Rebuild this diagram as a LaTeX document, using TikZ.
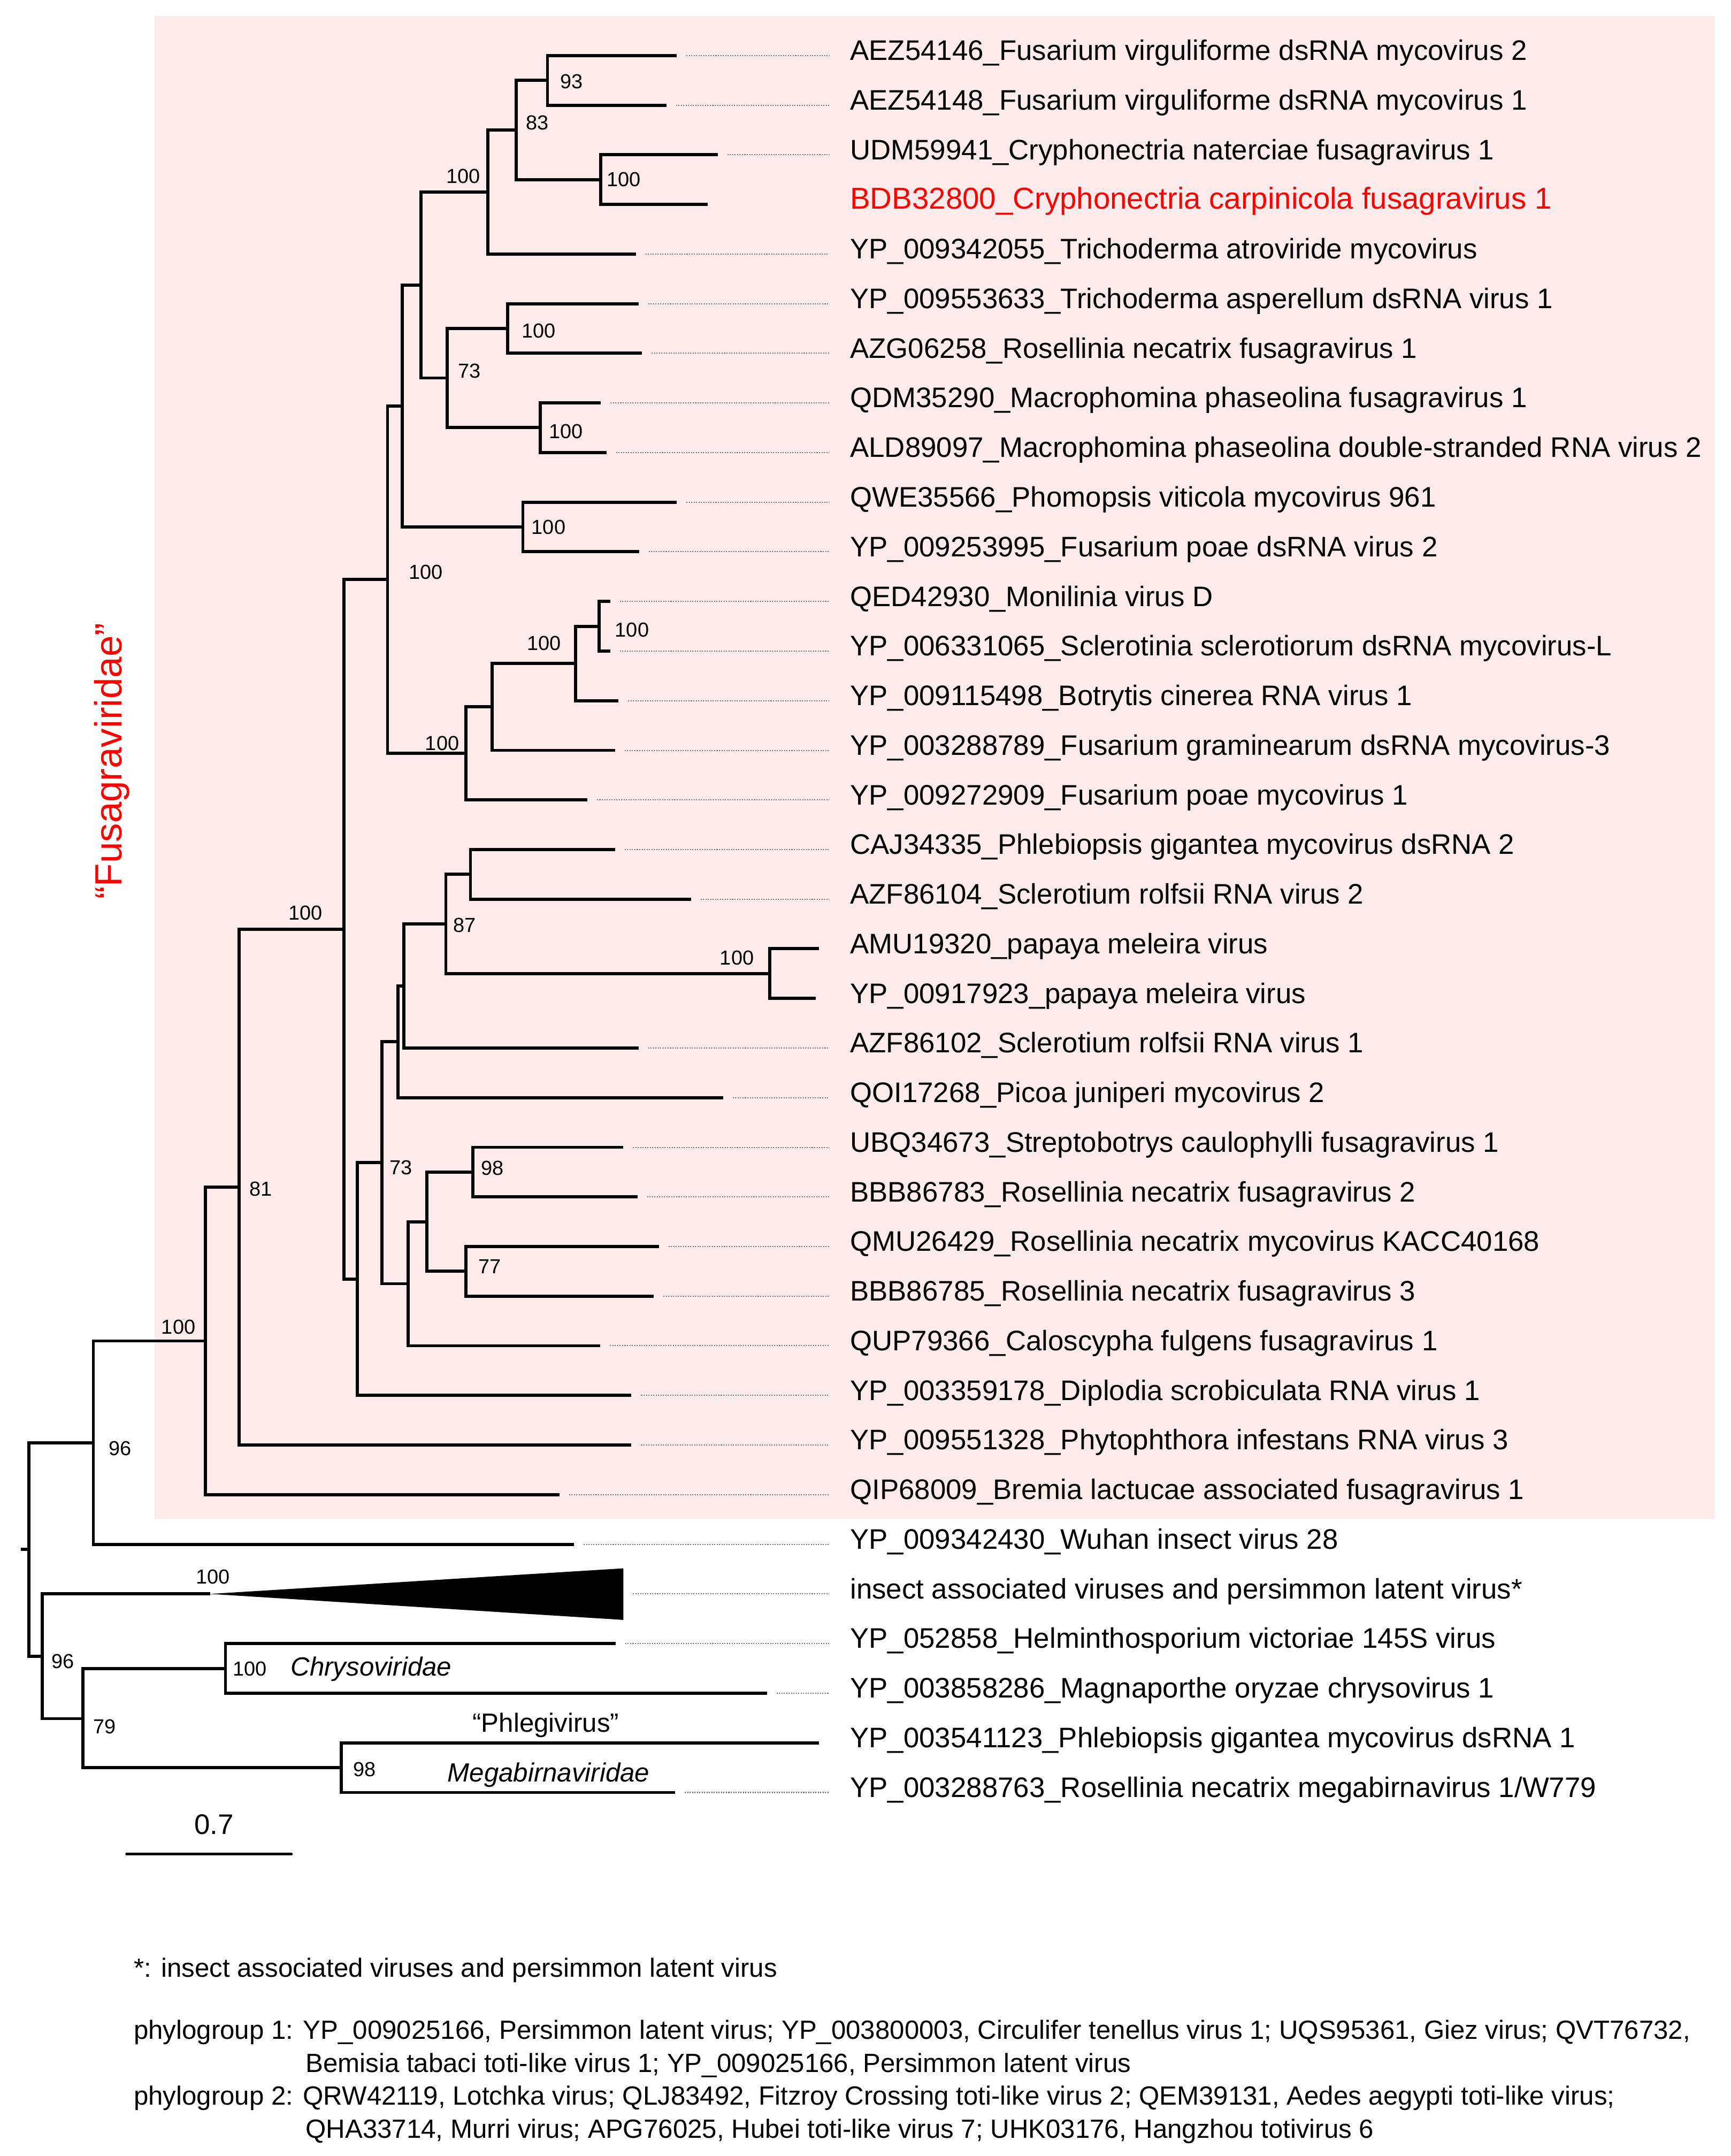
\documentclass[tikz,border=0pt]{standalone}
\usepackage{fontspec}
\setmainfont{Liberation Sans}
\definecolor{fusapink}{RGB}{253,235,235}
\definecolor{fusared}{RGB}{255,0,0}
\tikzset{
	branch/.style={line width=1.3pt, line join=miter},
	lead/.style={black!55, line width=0.45pt, dash pattern=on 0.45pt off 0.55pt},
	leaf/.style={anchor=west, inner xsep=0.3cm, inner ysep=0pt, text height=6.4pt, text depth=2.5pt, font=\fontsize{11.7}{14}\selectfont},
	boot/.style={inner sep=0pt, font=\fontsize{8.4}{10}\selectfont},
	grp/.style={inner sep=0pt, font=\fontsize{10.9}{13}\selectfont},
	note/.style={anchor=base west, inner sep=0pt, font=\fontsize{10.9}{13}\selectfont}
}
\begin{document}
\begin{tikzpicture}[x=0.02cm, y=-0.02cm]
			\useasboundingbox (0,0) rectangle (1259,1568);
			\fill[fusapink] (112.4,11.7) rectangle (1247.3,1104.5);
			
			\coordinate (t0) at (492.3,40.4);
			\coordinate (t1) at (484.7,76.5);
			\coordinate (t2) at (522.1,112.6);
			\coordinate (t3) at (514.9,148.7);
			\coordinate (t4) at (462.5,184.8);
			\coordinate (t5) at (464.5,220.9);
			\coordinate (t6) at (466.9,256.9);
			\coordinate (t7) at (437.1,293.0);
			\coordinate (t8) at (441.1,329.1);
			\coordinate (t9) at (492.3,365.2);
			\coordinate (t10) at (464.9,401.3);
			\coordinate (t11) at (443.8,437.4);
			\coordinate (t12) at (443.8,473.5);
			\coordinate (t13) at (449.8,509.6);
			\coordinate (t14) at (447.4,545.7);
			\coordinate (t15) at (427.2,581.8);
			\coordinate (t16) at (447.4,617.8);
			\coordinate (t17) at (502.6,653.9);
			\coordinate (t18) at (595.5,690.0);
			\coordinate (t19) at (593.5,726.1);
			\coordinate (t20) at (464.5,762.2);
			\coordinate (t21) at (526.0,798.3);
			\coordinate (t22) at (453.4,834.4);
			\coordinate (t23) at (463.7,870.5);
			\coordinate (t24) at (479.2,906.6);
			\coordinate (t25) at (475.6,942.7);
			\coordinate (t26) at (436.7,978.7);
			\coordinate (t27) at (459.3,1014.8);
			\coordinate (t28) at (459.3,1050.9);
			\coordinate (t29) at (406.9,1087.0);
			\coordinate (t30) at (417.6,1123.1);
			\coordinate (t31) at (453.4,1159.2);
			\coordinate (t32) at (447.8,1195.3);
			\coordinate (t33) at (557.8,1231.4);
			\coordinate (t34) at (595.5,1267.5);
			\coordinate (t35) at (491.1,1303.6);
			
			\coordinate (fv) at (398.2,58.5);
			\coordinate (cry) at (437.1,130.6);
			\coordinate (fvc) at (375.6,94.6);
			\coordinate (tatr) at (354.9,139.7);
			\coordinate (tasp) at (369.2,238.9);
			\coordinate (mph) at (393.0,311.0);
			\coordinate (rtm) at (325.1,274.9);
			\coordinate (up1) at (306.1,207.3);
			\coordinate (pho) at (380.3,383.3);
			\coordinate (up2) at (292.6,295.3);
			\coordinate (mon) at (435.9,455.5);
			\coordinate (bot) at (418.8,482.6);
			\coordinate (fgr) at (358.1,514.1);
			\coordinate (fpo) at (339.0,547.9);
			\coordinate (upA) at (281.9,421.5);
			\coordinate (phl) at (342.2,635.9);
			\coordinate (pap) at (559.8,708.0);
			\coordinate (scl) at (324.3,672.0);
			\coordinate (sr1) at (293.8,717.1);
			\coordinate (pic) at (289.4,757.7);
			\coordinate (str) at (343.8,852.4);
			\coordinate (ros) at (339.0,924.6);
			\coordinate (rs2) at (310.5,888.5);
			\coordinate (cal) at (297.0,933.6);
			\coordinate (upB) at (277.9,845.6);
			\coordinate (dip) at (260.0,930.2);
			\coordinate (fus) at (250.1,675.9);
			\coordinate (phy) at (173.9,863.4);
			\coordinate (bre) at (149.3,975.2);
			\coordinate (wuh) at (67.9,1049.2);
			\coordinate (root) at (21.0,1126.9);
			\coordinate (stub) at (15.1,1126.9);
			\coordinate (tot) at (30.6,1204.6);
			\coordinate (ins) at (152.8,1159.2);
			\coordinate (chm) at (60.3,1249.9);
			\coordinate (chr) at (164.0,1213.4);
			\coordinate (meg) at (248.1,1285.6);
			
			\draw[branch] (fv) |- (t0) (fv) |- (t1);
			\draw[branch] (cry) |- (t2) (cry) |- (t3);
			\draw[branch] (fvc) |- (fv) (fvc) |- (cry);
			\draw[branch] (tatr) |- (fvc) (tatr) |- (t4);
			\draw[branch] (tasp) |- (t5) (tasp) |- (t6);
			\draw[branch] (mph) |- (t7) (mph) |- (t8);
			\draw[branch] (rtm) |- (tasp) (rtm) |- (mph);
			\draw[branch] (up1) |- (tatr) (up1) |- (rtm);
			\draw[branch] (pho) |- (t9) (pho) |- (t10);
			\draw[branch] (up2) |- (up1) (up2) |- (pho);
			\draw[branch] (mon) |- (t11) (mon) |- (t12);
			\draw[branch] (bot) |- (mon) (bot) |- (t13);
			\draw[branch] (fgr) |- (bot) (fgr) |- (t14);
			\draw[branch] (fpo) |- (fgr) (fpo) |- (t15);
			\draw[branch] (upA) |- (up2) (upA) |- (fpo);
			\draw[branch] (phl) |- (t16) (phl) |- (t17);
			\draw[branch] (pap) |- (t18) (pap) |- (t19);
			\draw[branch] (scl) |- (phl) (scl) |- (pap);
			\draw[branch] (sr1) |- (scl) (sr1) |- (t20);
			\draw[branch] (pic) |- (sr1) (pic) |- (t21);
			\draw[branch] (str) |- (t22) (str) |- (t23);
			\draw[branch] (ros) |- (t24) (ros) |- (t25);
			\draw[branch] (rs2) |- (str) (rs2) |- (ros);
			\draw[branch] (cal) |- (rs2) (cal) |- (t26);
			\draw[branch] (upB) |- (pic) (upB) |- (cal);
			\draw[branch] (dip) |- (upB) (dip) |- (t27);
			\draw[branch] (fus) |- (upA) (fus) |- (dip);
			\draw[branch] (phy) |- (fus) (phy) |- (t28);
			\draw[branch] (bre) |- (phy) (bre) |- (t29);
			\draw[branch] (wuh) |- (bre) (wuh) |- (t30);
			\draw[branch] (root) |- (wuh) (root) |- (tot) (stub) -- (root);
			\draw[branch] (tot) |- (ins) (tot) |- (chm);
			\fill (ins) -- (453.4,1140.6) -- (453.4,1178.1) -- cycle;
			\draw[branch] (chm) |- (chr) (chm) |- (meg);
			\draw[branch] (chr) |- (t32) (chr) |- (t33);
			\draw[branch] (meg) |- (t34) (meg) |- (t35);
			
			\node[leaf] (l0) at (603,40.4) {AEZ54146\_Fusarium virguliforme dsRNA mycovirus 2};
			\node[leaf] (l1) at (603,76.5) {AEZ54148\_Fusarium virguliforme dsRNA mycovirus 1};
			\node[leaf] (l2) at (603,112.6) {UDM59941\_Cryphonectria naterciae fusagravirus 1};
			\node[leaf, text=fusared, font=\fontsize{12.5}{15}\selectfont] (l3) at (603,148.7) {BDB32800\_Cryphonectria carpinicola fusagravirus 1};
			\node[leaf] (l4) at (603,184.8) {YP\_009342055\_Trichoderma atroviride mycovirus};
			\node[leaf] (l5) at (603,220.9) {YP\_009553633\_Trichoderma asperellum dsRNA virus 1};
			\node[leaf] (l6) at (603,256.9) {AZG06258\_Rosellinia necatrix fusagravirus 1};
			\node[leaf] (l7) at (603,293.0) {QDM35290\_Macrophomina phaseolina fusagravirus 1};
			\node[leaf] (l8) at (603,329.1) {ALD89097\_Macrophomina phaseolina double-stranded RNA virus 2};
			\node[leaf] (l9) at (603,365.2) {QWE35566\_Phomopsis viticola mycovirus 961};
			\node[leaf] (l10) at (603,401.3) {YP\_009253995\_Fusarium poae dsRNA virus 2};
			\node[leaf] (l11) at (603,437.4) {QED42930\_Monilinia virus D};
			\node[leaf] (l12) at (603,473.5) {YP\_006331065\_Sclerotinia sclerotiorum dsRNA mycovirus-L};
			\node[leaf] (l13) at (603,509.6) {YP\_009115498\_Botrytis cinerea RNA virus 1};
			\node[leaf] (l14) at (603,545.7) {YP\_003288789\_Fusarium graminearum dsRNA mycovirus-3};
			\node[leaf] (l15) at (603,581.8) {YP\_009272909\_Fusarium poae mycovirus 1};
			\node[leaf] (l16) at (603,617.8) {CAJ34335\_Phlebiopsis gigantea mycovirus dsRNA 2};
			\node[leaf] (l17) at (603,653.9) {AZF86104\_Sclerotium rolfsii RNA virus 2};
			\node[leaf] (l18) at (603,690.0) {AMU19320\_papaya meleira virus};
			\node[leaf] (l19) at (603,726.1) {YP\_00917923\_papaya meleira virus};
			\node[leaf] (l20) at (603,762.2) {AZF86102\_Sclerotium rolfsii RNA virus 1};
			\node[leaf] (l21) at (603,798.3) {QOI17268\_Picoa juniperi mycovirus 2};
			\node[leaf] (l22) at (603,834.4) {UBQ34673\_Streptobotrys caulophylli fusagravirus 1};
			\node[leaf] (l23) at (603,870.5) {BBB86783\_Rosellinia necatrix fusagravirus 2};
			\node[leaf] (l24) at (603,906.6) {QMU26429\_Rosellinia necatrix mycovirus KACC40168};
			\node[leaf] (l25) at (603,942.7) {BBB86785\_Rosellinia necatrix fusagravirus 3};
			\node[leaf] (l26) at (603,978.7) {QUP79366\_Caloscypha fulgens fusagravirus 1};
			\node[leaf] (l27) at (603,1014.8) {YP\_003359178\_Diplodia scrobiculata RNA virus 1};
			\node[leaf] (l28) at (603,1050.9) {YP\_009551328\_Phytophthora infestans RNA virus 3};
			\node[leaf] (l29) at (603,1087.0) {QIP68009\_Bremia lactucae associated fusagravirus 1};
			\node[leaf] (l30) at (603,1123.1) {YP\_009342430\_Wuhan insect virus 28};
			\node[leaf] (l31) at (603,1159.2) {insect associated viruses and persimmon latent virus*};
			\node[leaf] (l32) at (603,1195.3) {YP\_052858\_Helminthosporium victoriae 145S virus};
			\node[leaf] (l33) at (603,1231.4) {YP\_003858286\_Magnaporthe oryzae chrysovirus 1};
			\node[leaf] (l34) at (603,1267.5) {YP\_003541123\_Phlebiopsis gigantea mycovirus dsRNA 1};
			\node[leaf] (l35) at (603,1303.6) {YP\_003288763\_Rosellinia necatrix megabirnavirus 1/W779};
			
			\draw[lead] (t0) ++(7,0) -- (l0.west);
			\draw[lead] (t1) ++(7,0) -- (l1.west);
			\draw[lead] (t2) ++(7,0) -- (l2.west);
			\draw[lead] (t4) ++(7,0) -- (l4.west);
			\draw[lead] (t5) ++(7,0) -- (l5.west);
			\draw[lead] (t6) ++(7,0) -- (l6.west);
			\draw[lead] (t7) ++(7,0) -- (l7.west);
			\draw[lead] (t8) ++(7,0) -- (l8.west);
			\draw[lead] (t9) ++(7,0) -- (l9.west);
			\draw[lead] (t10) ++(7,0) -- (l10.west);
			\draw[lead] (t11) ++(7,0) -- (l11.west);
			\draw[lead] (t12) ++(7,0) -- (l12.west);
			\draw[lead] (t13) ++(7,0) -- (l13.west);
			\draw[lead] (t14) ++(7,0) -- (l14.west);
			\draw[lead] (t15) ++(7,0) -- (l15.west);
			\draw[lead] (t16) ++(7,0) -- (l16.west);
			\draw[lead] (t17) ++(7,0) -- (l17.west);
			\draw[lead] (t20) ++(7,0) -- (l20.west);
			\draw[lead] (t21) ++(7,0) -- (l21.west);
			\draw[lead] (t22) ++(7,0) -- (l22.west);
			\draw[lead] (t23) ++(7,0) -- (l23.west);
			\draw[lead] (t24) ++(7,0) -- (l24.west);
			\draw[lead] (t25) ++(7,0) -- (l25.west);
			\draw[lead] (t26) ++(7,0) -- (l26.west);
			\draw[lead] (t27) ++(7,0) -- (l27.west);
			\draw[lead] (t28) ++(7,0) -- (l28.west);
			\draw[lead] (t29) ++(7,0) -- (l29.west);
			\draw[lead] (t30) ++(7,0) -- (l30.west);
			\draw[lead] (t31) ++(7,0) -- (l31.west);
			\draw[lead] (t32) ++(7,0) -- (l32.west);
			\draw[lead] (t33) ++(7,0) -- (l33.west);
			\draw[lead] (t35) ++(7,0) -- (l35.west);
			
			\node[boot] (b1) at (415.7,59.4) {93};
			\node[boot] (b2) at (391.0,89.3) {83};
			\node[boot] (b3) at (453.8,130.6) {100};
			\node[boot] (b4) at (337.1,128.0) {100};
			\node[boot] (b5) at (341.4,269.8) {73};
			\node[boot] (b6) at (391.8,240.7) {100};
			\node[boot] (b7) at (411.7,313.7) {100};
			\node[boot] (b8) at (399.0,383.6) {100};
			\node[boot] (b9) at (309.7,416.2) {100};
			\node[boot] (b10) at (459.7,458.0) {100};
			\node[boot] (b11) at (395.8,468.0) {100};
			\node[boot] (b12) at (321.6,540.6) {100};
			\node[boot] (b13) at (536.0,696.7) {100};
			\node[boot] (b14) at (338.0,673.0) {87};
			\node[boot] (b15) at (358.0,849.4) {98};
			\node[boot] (b16) at (356.2,921.1) {77};
			\node[boot] (b17) at (291.8,849.0) {73};
			\node[boot] (b18) at (222.3,664.0) {100};
			\node[boot] (b19) at (189.8,864.6) {81};
			\node[boot] (b20) at (129.8,965.0) {100};
			\node[boot] (b21) at (87.3,1053.5) {96};
			\node[boot] (b22) at (154.8,1146.8) {100};
			\node[boot] (b23) at (45.7,1208.3) {96};
			\node[boot] (b24) at (76.2,1255.6) {79};
			\node[boot] (b25) at (181.8,1213.8) {100};
			\node[boot] (b26) at (265.2,1286.9) {98};
			
			\node[grp, font=\fontsize{10.9}{13}\itshape] (chry) at (270,1213.8) {Chrysoviridae};
			\node[grp] (phleg) at (397,1254.5) {“Phlegivirus”};
			\node[grp, font=\fontsize{10.9}{13}\itshape] (mega) at (399,1290.9) {Megabirnaviridae};
			\node[inner sep=0pt, rotate=90, text=fusared, font=\fontsize{15.7}{18}\selectfont] (fusa) at (81.4,553.5) {“Fusagraviridae”};
			
			\coordinate (sb1) at (92.1,1348.5);
			\coordinate (sb2) at (212.0,1348.5);
			\draw[line width=1.1pt, line cap=round] (sb1) -- (sb2);
			\node[inner sep=0pt, font=\fontsize{11.7}{14}\selectfont] (sbl) at (155.6,1326.7) {0.7};
			
			\node[note] (n0) at (97,1438) {*: insect associated viruses and persimmon latent virus};
			\node[note] (n1) at (97,1483) {phylogroup 1: YP\_009025166, Persimmon latent virus; YP\_003800003, Circulifer tenellus virus 1; UQS95361, Giez virus; QVT76732,};
			\node[note] (n2) at (222,1507) {Bemisia tabaci toti-like virus 1; YP\_009025166, Persimmon latent virus};
			\node[note] (n3) at (97,1531) {phylogroup 2: QRW42119, Lotchka virus; QLJ83492, Fitzroy Crossing toti-like virus 2; QEM39131, Aedes aegypti toti-like virus;};
			\node[note] (n4) at (222,1555) {QHA33714, Murri virus; APG76025, Hubei toti-like virus 7; UHK03176, Hangzhou totivirus 6};
		\end{tikzpicture}
\end{document}
